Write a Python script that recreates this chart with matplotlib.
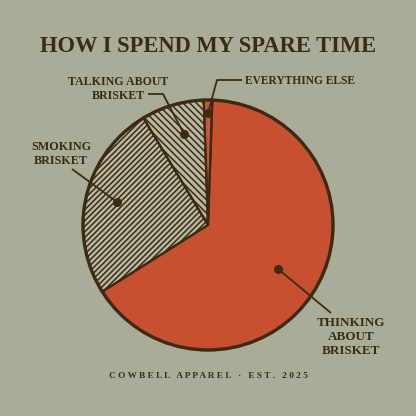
import matplotlib
matplotlib.use('Agg')
import matplotlib.pyplot as plt
from matplotlib.patches import Circle

# ---------------- data ----------------
categories = ['THINKING\nABOUT\nBRISKET', 'SMOKING\nBRISKET',
              'TALKING ABOUT\nBRISKET', 'EVERYTHING ELSE']
shares = [65.5, 25.3, 8.1, 1.1]
title_text = 'HOW I SPEND MY SPARE TIME'
footer_text = 'C O W B E L L   A P P A R E L   \u00b7   E S T .   2 0 2 5'

# ---------------- style ----------------
BG = '#a9ad97'
ORANGE = '#c6502f'
DARK = '#3c2b10'
LIGHT = '#b8b9a3'

SERIF = 'Liberation Serif'

plt.rcParams['hatch.linewidth'] = 1.1

W = 416
fig = plt.figure(figsize=(4.16, 4.16), dpi=100, facecolor=BG)
ax = fig.add_axes([0, 0, 1, 1])
ax.set_facecolor(BG)

def Y(ypx):
    return W - ypx

cx, cy, R = 208, Y(225), 125

wedges, _ = ax.pie(shares, startangle=88, counterclock=False,
                   center=(cx, cy), radius=R,
                   colors=[ORANGE, LIGHT, LIGHT, LIGHT],
                   hatch=['', '/' * 6, '\\' * 5, '|' * 10],
                   wedgeprops=dict(linewidth=0))
hatch_cols = [ORANGE, DARK, DARK, ORANGE]
for w, hc in zip(wedges, hatch_cols):
    w.set_edgecolor(hc)
    w.set_linewidth(0)

outl, _ = ax.pie(shares, startangle=88, counterclock=False,
                 center=(cx, cy), radius=R,
                 colors=['none'] * 4,
                 wedgeprops=dict(linewidth=1.6, edgecolor=DARK))
ax.add_patch(Circle((cx, cy), R, facecolor='none', edgecolor=DARK, lw=2.4))

ax.set_xlim(0, W)
ax.set_ylim(0, W)
ax.set_aspect('equal')
ax.axis('off')

fig.canvas.draw()
rend = fig.canvas.get_renderer()

def fit(t, target_w):
    bb = t.get_window_extent(rend)
    t.set_fontsize(t.get_fontsize() * target_w / bb.width)

tkw = dict(family=SERIF, weight='bold', color=DARK)

title = ax.text(208, Y(46), title_text, ha='center', va='center', fontsize=20, **tkw)
fit(title, 335)

# labels: (text, x, y, ha, widest-line target width)
lab_specs = [
    (categories[0], 351, 337, 'center', 68),
    (categories[1], 61, 154, 'center', 60),
    (categories[2], 118, 89, 'center', 100),
    (categories[3], 245, 81, 'left', 110),
]
for txt, x, y, ha, tw in lab_specs:
    widest = max(txt.split('\n'), key=len)
    probe = ax.text(0, 0, widest, fontsize=12, **tkw)
    bb = probe.get_window_extent(rend)
    fs = 12 * tw / bb.width
    probe.remove()
    ax.text(x, Y(y), txt, ha=ha, va='center', ma='center', fontsize=fs,
            linespacing=1.2, **tkw)

# leader lines (pixel coords from top)
leaders = [
    [(278, 269), (331, 313)],
    [(117, 202), (72, 169)],
    [(184, 134), (163, 94), (148, 94)],
    [(208, 113), (217, 80), (242, 80)],
]
for pts in leaders:
    xs = [p[0] for p in pts]
    ys = [Y(p[1]) for p in pts]
    ax.plot(xs, ys, color=DARK, lw=1.3, solid_capstyle='butt')
    ax.plot(xs[0], ys[0], 'o', ms=5.5, color=DARK, mec=DARK)

foot = ax.text(208, Y(376), footer_text, ha='center', va='center', fontsize=7,
               family=SERIF, weight='bold', color=DARK)
fit(foot, 200)

fig.savefig('out.png', dpi=100, facecolor=BG)
